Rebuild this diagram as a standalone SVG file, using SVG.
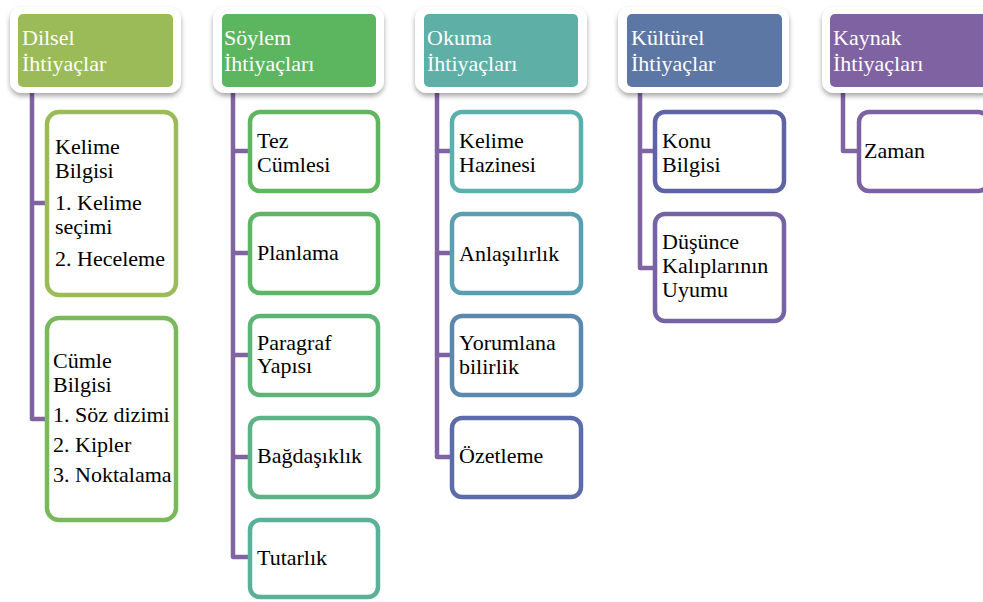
<svg xmlns="http://www.w3.org/2000/svg" width="983" height="602" viewBox="0 0 983 602">
  <defs>
    <filter id="shadow" x="-10%" y="-10%" width="120%" height="130%">
      <feDropShadow dx="0" dy="3" stdDeviation="2.5" flood-color="#000" flood-opacity="0.35"/>
    </filter>
    <style>
      .hdr-frame { fill: #ffffff; filter: url(#shadow); }
      .hdr { stroke: none; }
      .hdr-text { font-size: 22px; fill: #ffffff; }
      .item { fill: #ffffff; stroke-width: 4.5; }
      .item-text { font-size: 22px; fill: #000000; }
      .link { fill: none; stroke: #8064A2; stroke-width: 4.5; stroke-linejoin: round; }
    </style>
  </defs>

  <rect width="983" height="602" fill="#ffffff"/>

  <!-- tree connectors -->
  <g id="connectors">
    <path class="link" d="M32 92 V419 H47 M32 203 H47"/>
    <path class="link" d="M233 92 V557 H250 M233 151 H250 M233 253 H250 M233 355 H250 M233 457 H250"/>
    <path class="link" d="M437 92 V457 H452 M437 151 H452 M437 253 H452 M437 355 H452"/>
    <path class="link" d="M640 92 V268 H655 M640 151 H655"/>
    <path class="link" d="M843 92 V151 H859"/>
  </g>

  <g font-family="Liberation Serif, Tinos, Times New Roman, Nimbus Roman, serif">
  <!-- column 1 -->
  <g id="dilsel">
    <rect class="hdr-frame" x="10" y="7" width="171" height="86" rx="12"/>
    <rect class="hdr" x="18" y="14" width="155" height="73" rx="5" fill="#9BBB59"/>
    <text class="hdr-text" x="22" y="45">Dilsel</text>
    <text class="hdr-text" x="22" y="71">İhtiyaçlar</text>
  </g>
  <g id="kelime-bilgisi">
    <rect class="item" x="47" y="112" width="129" height="183" rx="12" stroke="#9BBB59"/>
    <text class="item-text" x="55" y="154">Kelime</text>
    <text class="item-text" x="55" y="178">Bilgisi</text>
    <text class="item-text" x="55" y="210">1. Kelime</text>
    <text class="item-text" x="55" y="234">seçimi</text>
    <text class="item-text" x="55" y="266">2. Heceleme</text>
  </g>
  <g id="cumle-bilgisi">
    <rect class="item" x="47" y="318" width="129" height="202" rx="12" stroke="#79B95B"/>
    <text class="item-text" x="53" y="368">Cümle</text>
    <text class="item-text" x="53" y="392">Bilgisi</text>
    <text class="item-text" x="53" y="422">1. Söz dizimi</text>
    <text class="item-text" x="53" y="452">2. Kipler</text>
    <text class="item-text" x="53" y="482">3. Noktalama</text>
  </g>

  <!-- column 2 -->
  <g id="soylem">
    <rect class="hdr-frame" x="213" y="7" width="171" height="86" rx="12"/>
    <rect class="hdr" x="222" y="14" width="154" height="73" rx="5" fill="#5CB55F"/>
    <text class="hdr-text" x="224" y="45">Söylem</text>
    <text class="hdr-text" x="224" y="71">İhtiyaçları</text>
  </g>
  <g id="tez-cumlesi">
    <rect class="item" x="250" y="112" width="128" height="79" rx="10" stroke="#60B660"/>
    <text class="item-text" x="257" y="148">Tez</text>
    <text class="item-text" x="257" y="172">Cümlesi</text>
  </g>
  <g id="planlama">
    <rect class="item" x="250" y="214" width="128" height="79" rx="10" stroke="#5DB566"/>
    <text class="item-text" x="257" y="260">Planlama</text>
  </g>
  <g id="paragraf-yapisi">
    <rect class="item" x="250" y="316" width="128" height="79" rx="10" stroke="#5DB477"/>
    <text class="item-text" x="257" y="350">Paragraf</text>
    <text class="item-text" x="257" y="373">Yapısı</text>
  </g>
  <g id="bagdasiklik">
    <rect class="item" x="250" y="418" width="128" height="79" rx="10" stroke="#5CB387"/>
    <text class="item-text" x="257" y="463">Bağdaşıklık</text>
  </g>
  <g id="tutarlik">
    <rect class="item" x="250" y="520" width="128" height="77" rx="10" stroke="#5BB099"/>
    <text class="item-text" x="257" y="565">Tutarlık</text>
  </g>

  <!-- column 3 -->
  <g id="okuma">
    <rect class="hdr-frame" x="415" y="7" width="172" height="86" rx="12"/>
    <rect class="hdr" x="424" y="14" width="154" height="73" rx="5" fill="#5EAFA6"/>
    <text class="hdr-text" x="427" y="45">Okuma</text>
    <text class="hdr-text" x="427" y="71">İhtiyaçları</text>
  </g>
  <g id="kelime-hazinesi">
    <rect class="item" x="452" y="112" width="129" height="79" rx="10" stroke="#5BB0AE"/>
    <text class="item-text" x="459" y="148">Kelime</text>
    <text class="item-text" x="459" y="172">Hazinesi</text>
  </g>
  <g id="anlasilirlik">
    <rect class="item" x="452" y="214" width="129" height="79" rx="10" stroke="#5A9FB0"/>
    <text class="item-text" x="459" y="261">Anlaşılırlık</text>
  </g>
  <g id="yorumlanabilirlik">
    <rect class="item" x="452" y="316" width="129" height="79" rx="10" stroke="#5A88AE"/>
    <text class="item-text" x="459" y="350">Yorumlana</text>
    <text class="item-text" x="459" y="374">bilirlik</text>
  </g>
  <g id="ozetleme">
    <rect class="item" x="452" y="418" width="129" height="79" rx="10" stroke="#5C6BA9"/>
    <text class="item-text" x="459" y="463">Özetleme</text>
  </g>

  <!-- column 4 -->
  <g id="kulturel">
    <rect class="hdr-frame" x="618" y="7" width="171" height="86" rx="12"/>
    <rect class="hdr" x="627" y="14" width="155" height="73" rx="5" fill="#5C77A4"/>
    <text class="hdr-text" x="631" y="45">Kültürel</text>
    <text class="hdr-text" x="631" y="71">İhtiyaçlar</text>
  </g>
  <g id="konu-bilgisi">
    <rect class="item" x="655" y="112" width="129" height="79" rx="10" stroke="#5E63A6"/>
    <text class="item-text" x="662" y="148">Konu</text>
    <text class="item-text" x="662" y="172">Bilgisi</text>
  </g>
  <g id="dusunce-kaliplari">
    <rect class="item" x="655" y="214" width="129" height="107" rx="10" stroke="#7563A5"/>
    <text class="item-text" x="662" y="249">Düşünce</text>
    <text class="item-text" x="662" y="273">Kalıplarının</text>
    <text class="item-text" x="662" y="297">Uyumu</text>
  </g>

  <!-- column 5 -->
  <g id="kaynak">
    <rect class="hdr-frame" x="822" y="7" width="172" height="86" rx="12"/>
    <rect class="hdr" x="830" y="14" width="160" height="73" rx="5" fill="#7F62A1"/>
    <text class="hdr-text" x="833" y="45">Kaynak</text>
    <text class="hdr-text" x="833" y="71">İhtiyaçları</text>
  </g>
  <g id="zaman">
    <rect class="item" x="859" y="112" width="129" height="79" rx="10" stroke="#7D62A3"/>
    <text class="item-text" x="864" y="158">Zaman</text>
  </g>
  </g>
</svg>
